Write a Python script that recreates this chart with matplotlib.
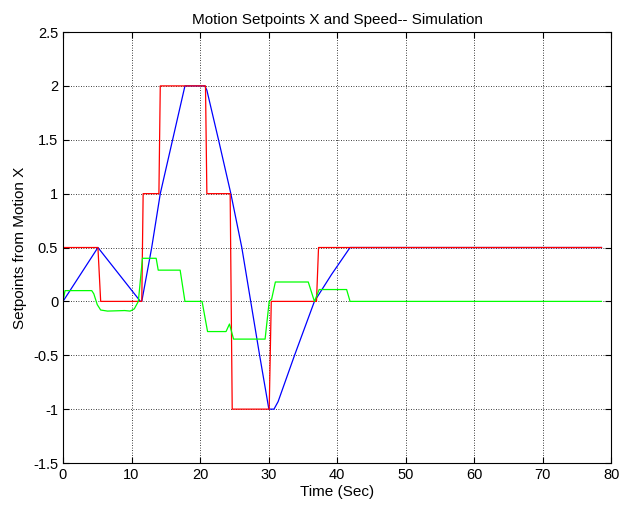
import matplotlib
matplotlib.use("Agg")
import matplotlib.pyplot as plt

plt.rcParams["font.family"] = ["Liberation Sans", "DejaVu Sans"]

# setpoint from motion X (red step trace)
sp_t = [0, 5.1, 5.5, 11.5, 11.7, 14.0, 14.2, 20.8, 21.0, 24.4, 24.7, 30.1, 30.4,
        37.0, 37.3, 78.6]
sp_x = [0.5, 0.5, 0, 0, 1, 1, 2, 2, 1, 1, -1, -1, 0, 0, 0.5, 0.5]

# simulated position (blue)
pos_t = [0, 5.1, 11.3, 11.5, 12.95, 14.2, 16.0, 17.8, 20.7, 21.0, 22.7, 24.5,
         26.1, 27.4, 28.7, 30.05, 30.8, 31.4, 33.8, 36.7, 39.2, 41.9, 78.6]
pos_x = [0, 0.5, 0, 0, 0.5, 1, 1.5, 2, 2, 1.96, 1.5, 1, 0.5, 0, -0.5, -1,
         -1, -0.93, -0.5, 0, 0.25, 0.5, 0.5]

# speed (green)
spd_t = [0, 0.3, 4.2, 4.5, 5.0, 5.5, 6.5, 9.0, 9.8, 10.4, 11.0, 11.6, 13.6, 13.9,
         17.1, 17.8, 20.3, 21.1, 23.8, 24.3, 24.9, 29.5, 30.1, 30.45, 31.0, 35.8,
         36.7, 37.4, 41.4, 41.9, 78.6]
spd_v = [0, 0.1, 0.1, 0.07, -0.03, -0.08, -0.09, -0.085, -0.09, -0.07, 0.0, 0.4,
         0.4, 0.29, 0.29, 0, 0, -0.28, -0.28, -0.21, -0.35, -0.35, 0, 0.02, 0.18,
         0.18, 0, 0.11, 0.11, 0, 0]

fig = plt.figure(figsize=(6.2, 5.14), dpi=100)
ax = fig.add_axes([0.1016, 0.0992, 0.884, 0.8385])

ax.plot(pos_t, pos_x, color="#0000ff", lw=0.9)
ax.plot(sp_t, sp_x, color="#ff0000", lw=0.9)
ax.plot(spd_t, spd_v, color="#00ff00", lw=0.9)

ax.set_xlim(0, 80)
ax.set_ylim(-1.5, 2.5)
ax.set_xticks(range(0, 81, 10))
ax.set_yticks([-1.5, -1, -0.5, 0, 0.5, 1, 1.5, 2, 2.5])
ax.set_yticklabels(["-1.5", "-1", "-0.5", "0", "0.5", "1", "1.5", "2", "2.5"])
ax.grid(True, color="black", linestyle=(0, (1, 2)), lw=0.6)
ax.tick_params(direction="in", top=True, right=True, labelsize=10.5, length=4)
for s in ax.spines.values():
    s.set_linewidth(0.8)

ax.set_title("Motion Setpoints X and Speed-- Simulation", fontsize=11)
ax.set_xlabel("Time (Sec)", fontsize=11, labelpad=2)
ax.set_ylabel("Setpoints from Motion X", fontsize=11)

fig.savefig("out.png", dpi=100)
